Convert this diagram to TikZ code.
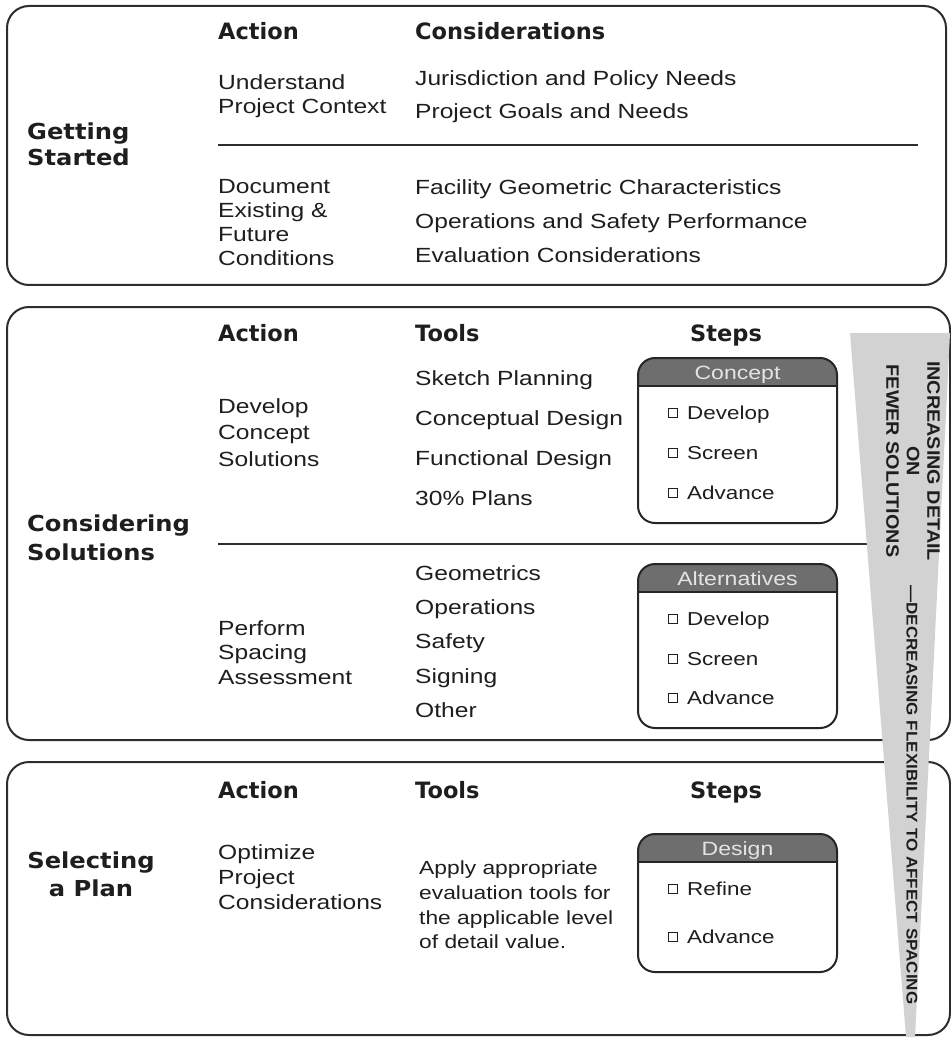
\documentclass[tikz,border=0pt]{standalone}
\usepackage{fontspec}
\setmainfont{Liberation Sans}
\newfontfamily\bodyf[FakeStretch=1.2]{Liberation Sans}
\newfontfamily\headf{DejaVu Sans}
\newfontfamily\labf[FakeStretch=1.1]{DejaVu Sans}
\newfontfamily\trif[FakeStretch=1.1]{Liberation Sans}
\definecolor{txt}{RGB}{30,30,30}
\definecolor{edge}{RGB}{45,45,45}
\definecolor{trigray}{RGB}{210,210,210}
\definecolor{hdrfill}{RGB}{110,110,110}
\definecolor{hdrtext}{RGB}{228,228,228}
\tikzset{
  body/.style={anchor=base west, inner sep=0pt, text=txt, font=\bodyf\fontsize{20.5}{24}\selectfont},
  head/.style={anchor=base west, inner sep=0pt, text=txt, font=\headf\bfseries\fontsize{22.5}{27}\selectfont},
  lab/.style={anchor=base west, inner sep=0pt, text=txt, font=\labf\bfseries\fontsize{22}{26}\selectfont},
  tool/.style={anchor=base west, inner sep=0pt, text=txt, font=\bodyf\fontsize{19}{25}\selectfont},
  item/.style={anchor=base west, inner sep=0pt, text=txt, font=\bodyf\fontsize{18.7}{22}\selectfont},
  hdrtxt/.style={anchor=base, inner sep=0pt, text=hdrtext, font=\bodyf\fontsize{19.2}{22}\selectfont},
  chk/.style={draw=txt, line width=1.1pt, minimum size=8.5pt, inner sep=0pt},
  panel/.style={draw=edge, line width=2pt, rounded corners=22pt},
  sbox/.style={draw=black!85, line width=2pt, rounded corners=17pt},
  sepline/.style={draw=edge, line width=1.6pt},
  tritext/.style={inner sep=0pt, text=txt, font=\trif\bfseries\fontsize{18}{20.5}\selectfont},
}
\begin{document}
\begin{tikzpicture}[x=1pt, y=-1pt]
\useasboundingbox (0,0) rectangle (950,1040);
% panels
\draw[panel] (7,6) rectangle (946,285);
\draw[panel] (7,307) rectangle (950,740);
\draw[panel] (7,762) rectangle (950,1035);
% separator lines
\coordinate (s1a) at (218,145); \coordinate (s1b) at (918,145);
\draw[sepline] (s1a) -- (s1b);
\coordinate (s2a) at (218,544); \coordinate (s2b) at (872,544);
\draw[sepline] (s2a) -- (s2b);

% ---------- Panel 1 ----------
\node[lab] (gs1) at (27,140) {Getting};
\node[lab] (gs2) at (27,166) {Started};
\node[head] (p1act) at (218,40) {Action};
\node[head] (p1con) at (415,40) {Considerations};
\node[body] (u1) at (218,89.5) {Understand};
\node[body] (u2) at (218,113.5) {Project Context};
\node[body] (c1) at (415,85.5) {Jurisdiction and Policy Needs};
\node[body] (c2) at (415,118.5) {Project Goals and Needs};
\node[body] (d1) at (218,193.5) {Document};
\node[body] (d2) at (218,217.5) {Existing \&};
\node[body] (d3) at (218,241.5) {Future};
\node[body] (d4) at (218,265.5) {Conditions};
\node[body] (c3) at (415,194.5) {Facility Geometric Characteristics};
\node[body] (c4) at (415,228.5) {Operations and Safety Performance};
\node[body] (c5) at (415,262.5) {Evaluation Considerations};

% ---------- Panel 2 ----------
\node[lab] (cs1) at (27,531) {Considering};
\node[lab] (cs2) at (27,560) {Solutions};
\node[head] (p2act) at (218,341) {Action};
\node[head] (p2tool) at (415,341) {Tools};
\node[head] (p2step) at (690,341) {Steps};
\node[body] (dc1) at (218,413.5) {Develop};
\node[body] (dc2) at (218,439.5) {Concept};
\node[body] (dc3) at (218,466.5) {Solutions};
\node[body] (t1) at (415,385.5) {Sketch Planning};
\node[body] (t2) at (415,425.5) {Conceptual Design};
\node[body] (t3) at (415,465.5) {Functional Design};
\node[body] (t4) at (415,505.5) {30\% Plans};
\node[body] (ps1) at (218,635.5) {Perform};
\node[body] (ps2) at (218,659.5) {Spacing};
\node[body] (ps3) at (218,684.5) {Assessment};
\node[body] (g1) at (415,580.5) {Geometrics};
\node[body] (g2) at (415,614.5) {Operations};
\node[body] (g3) at (415,648.5) {Safety};
\node[body] (g4) at (415,683.5) {Signing};
\node[body] (g5) at (415,717.5) {Other};

% Concept box
\begin{scope}
\clip[rounded corners=17pt] (638,358) rectangle (837,523);
\fill[hdrfill] (638,358) rectangle (837,386);
\end{scope}
\draw[sbox] (638,358) rectangle (837,523);
\draw[black!85, line width=1.6pt] (638,386) -- (837,386);
\node[hdrtxt] (hc) at (737.5,379) {Concept};
\node[chk] (k1) at (673,413) {}; \node[item] (i1) at (687,419.5) {Develop};
\node[chk] (k2) at (673,453) {}; \node[item] (i2) at (687,459.5) {Screen};
\node[chk] (k3) at (673,493) {}; \node[item] (i3) at (687,499.5) {Advance};

% Alternatives box
\begin{scope}
\clip[rounded corners=17pt] (638,564) rectangle (837,728);
\fill[hdrfill] (638,564) rectangle (837,592);
\end{scope}
\draw[sbox] (638,564) rectangle (837,728);
\draw[black!85, line width=1.6pt] (638,592) -- (837,592);
\node[hdrtxt] (ha) at (737.5,585) {Alternatives};
\node[chk] (k4) at (673,619) {}; \node[item] (i4) at (687,625.5) {Develop};
\node[chk] (k5) at (673,659) {}; \node[item] (i5) at (687,665.5) {Screen};
\node[chk] (k6) at (673,698) {}; \node[item] (i6) at (687,704.5) {Advance};

% ---------- Panel 3 ----------
\node[lab, anchor=base] (sp1) at (91,868) {Selecting};
\node[lab, anchor=base] (sp2) at (91,896) {a Plan};
\node[head] (p3act) at (218,798) {Action};
\node[head] (p3tool) at (415,798) {Tools};
\node[head] (p3step) at (690,798) {Steps};
\node[body] (o1) at (218,859.5) {Optimize};
\node[body] (o2) at (218,884.5) {Project};
\node[body] (o3) at (218,909.5) {Considerations};
\node[tool] (a1) at (419,874) {Apply appropriate};
\node[tool] (a2) at (419,899) {evaluation tools for};
\node[tool] (a3) at (419,924) {the applicable level};
\node[tool] (a4) at (419,948) {of detail value.};

% Design box
\begin{scope}
\clip[rounded corners=17pt] (638,834) rectangle (837,972);
\fill[hdrfill] (638,834) rectangle (837,862);
\end{scope}
\draw[sbox] (638,834) rectangle (837,972);
\draw[black!85, line width=1.6pt] (638,862) -- (837,862);
\node[hdrtxt] (hd) at (737.5,855) {Design};
\node[chk] (k7) at (673,889) {}; \node[item] (i7) at (687,895.5) {Refine};
\node[chk] (k8) at (673,937) {}; \node[item] (i8) at (687,943.5) {Advance};

% ---------- Wedge ----------
\fill[trigray] (850,333) -- (950,333) -- (915,1037) -- (906,1037) -- cycle;
\node[tritext, rotate=-90, align=center] (inc) at (913,461) {INCREASING DETAIL\\ON\\FEWER SOLUTIONS};
\node[tritext, rotate=-90, font=\trif\bfseries\fontsize{15.5}{18}\selectfont] (dec) at (912,795) {—DECREASING FLEXIBILITY TO AFFECT SPACING};
\end{tikzpicture}
\end{document}
